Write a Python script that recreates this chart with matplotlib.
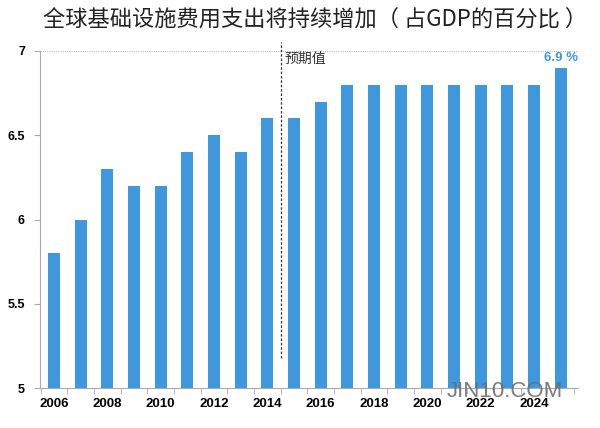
import matplotlib.pyplot as plt
import numpy as np

plt.rcParams['font.family'] = ['Noto Sans CJK SC', 'DejaVu Sans']

years = np.arange(2006, 2026)
values = [5.8, 6.0, 6.3, 6.2, 6.2, 6.4, 6.5, 6.4, 6.6, 6.6,
          6.7, 6.8, 6.8, 6.8, 6.8, 6.8, 6.8, 6.8, 6.8, 6.9]
xtick_years = np.arange(2006, 2025, 2)
yticks = [5, 5.5, 6, 6.5, 7]
forecast_start = 2014.5

blue = '#3f97dd'
num_font = 'Liberation Sans'

fig = plt.figure(figsize=(6, 4.28), dpi=100)
ax = fig.add_axes([0.067, 0.093, 0.896, 0.788])

ax.bar(years, np.array(values) - 5, bottom=5, width=0.45, color=blue, zorder=2)

ax.set_xlim(2005.48, 2025.64)
ax.set_ylim(5, 7)
ax.set_yticks(yticks)
ax.set_yticklabels(['5', '5.5', '6', '6.5', '7'], fontweight='bold', fontsize=9,
                   family=num_font)
ax.set_xticks(xtick_years)
ax.set_xticklabels([str(y) for y in xtick_years], fontweight='bold', fontsize=9.5,
                   family=num_font)
ax.set_xticks(np.arange(2005.5, 2025.6, 1), minor=True)
ax.tick_params(axis='x', which='major', length=0, pad=7)
ax.tick_params(axis='x', which='minor', length=4, color='#aaaaaa')
ax.tick_params(axis='y', length=4, color='#aaaaaa', pad=7)

for s in ['top', 'right']:
    ax.spines[s].set_visible(False)
for s in ['left', 'bottom']:
    ax.spines[s].set_color('#aaaaaa')

ax.axhline(7, color='#bbbbbb', linestyle=(0, (1, 1)), linewidth=0.8, zorder=1)

ax.plot([forecast_start, forecast_start], [5.18, 7.055], color='#333333',
        linestyle=(0, (2, 1.5)), linewidth=0.9, clip_on=False)
ax.text(forecast_start + 0.12, 6.95, '预期值', fontsize=10, ha='left', va='center',
        color='#333333')

ax.text(years[-1], values[-1] + 0.02, '6.9 %', color=blue, fontweight='bold',
        fontsize=9.5, ha='center', va='bottom', family=num_font)

fig.text(0.525, 0.955, '全球基础设施费用支出将持续增加（ 占GDP的百分比 ）',
         fontsize=16, ha='center', va='center', color='#222222')

ax.text(0.864, -0.01, 'JIN10.COM', transform=ax.transAxes, fontsize=16,
        color='#6e6e6e', alpha=0.9, ha='center', va='center', zorder=3,
        family=num_font)

fig.savefig('out.png', dpi=100)
